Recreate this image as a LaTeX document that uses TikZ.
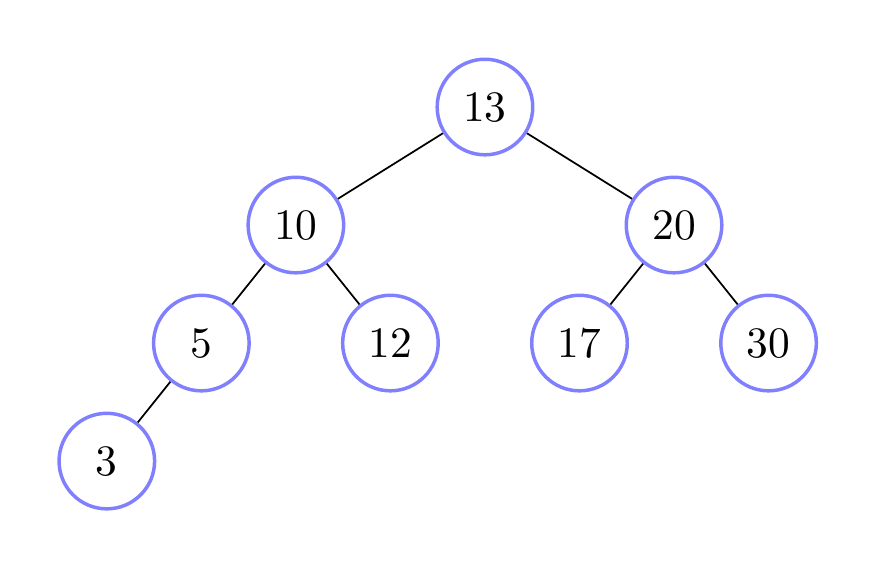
\documentclass[tikz,border=0pt]{standalone}
\begin{document}
\begin{tikzpicture}[x=0.765cm,y=0.955cm,
    nodo/.style={circle,draw=blue!50,thick,minimum size=22pt,inner sep=0pt}]
    \useasboundingbox (-5.13,0.907) rectangle (4.147,-3.923);

    \node[nodo] (n13) at (0,0) {13};
    \node[nodo] (n10) at (-2,-1) {10};
    \node[nodo] (n20) at (2,-1) {20};
    \node[nodo] (n5) at (-3,-2) {5};
    \node[nodo] (n12) at (-1,-2) {12};
    \node[nodo] (n17) at (1,-2) {17};
    \node[nodo] (n30) at (3,-2) {30};
    \node[nodo] (n3) at (-4,-3) {3};
    %\node[opciones] (nombre) at (x,y) {contenido};

    \draw (n13) -- (n10);
    \draw (n13) -- (n20);
    \draw (n10) -- (n5);
    \draw (n10) -- (n12);
    \draw (n20) -- (n17);
    \draw (n20) -- (n30);
    \draw (n5) -- (n3);
\end{tikzpicture}
\end{document}
